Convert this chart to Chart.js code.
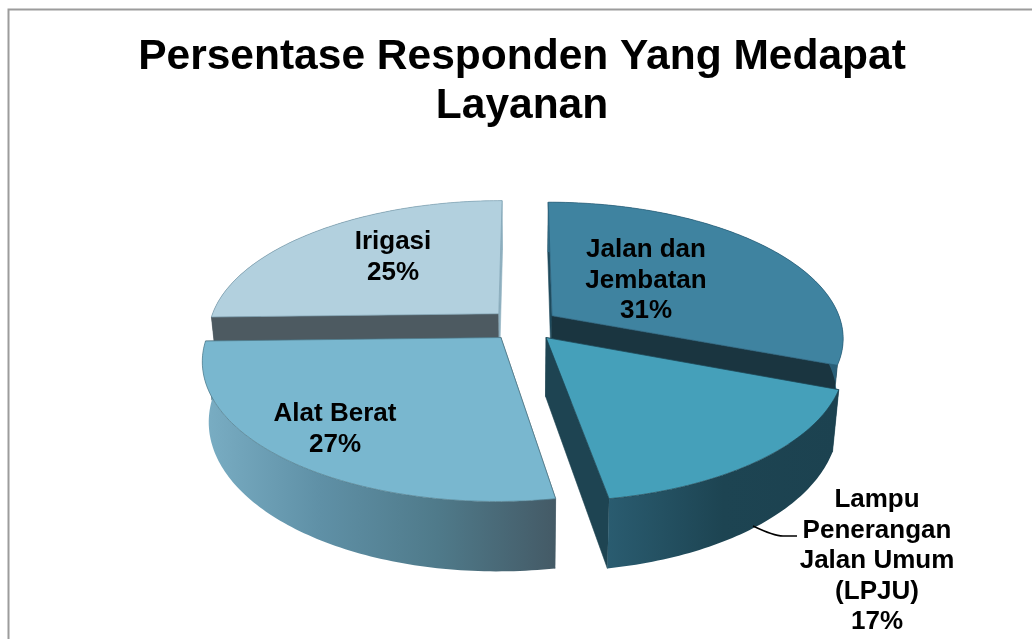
<!DOCTYPE html>
<html>
<head>
<meta charset="utf-8">
<style>html,body{margin:0;padding:0;background:#fff;overflow:hidden}canvas{display:block}</style>
<script src="https://cdn.jsdelivr.net/npm/chart.js@4"></script>
</head>
<body>
<div style="width:1032px;height:639px"><canvas id="c" width="1032" height="639"></canvas></div>
<script>
const titleLines = ['Persentase Responden Yang Medapat', 'Layanan'];
const categories = ['Jalan dan Jembatan', 'Lampu Penerangan Jalan Umum (LPJU)', 'Alat Berat', 'Irigasi'];
const values = [30.8, 16.5, 27.3, 25.4];
const labelLines = [['Jalan dan', 'Jembatan'], ['Lampu', 'Penerangan', 'Jalan Umum', '(LPJU)'], ['Alat Berat'], ['Irigasi']];
const topColors = ['#3f83a0', '#45a0ba', '#79b7cf', '#b2d0de'];
const startCutColors = ['#1e4a5c', '#1e4452', '#445a66', '#4d5a61'];
const endCutColors = ['#1a3540', '#1e4452', '#435c68', '#8fb0c0'];
const rimStops = [
  ['#2f6a84', '#2a5f78'],
  ['#2a5c70', '#1d4452', '#1c4250'],
  ['#7aaec4', '#5f90a6', '#4f7a8a', '#445a66'],
  ['#4d5a61', '#4d5a61', '#8fb0c0']
];

const view = {k: 0.462, p: 0.156, depth: 58, bottomScale: 0.98, shiftX: 1.5};
const labelPlaces = [[646, 250], [877, 500], [335, 414], [393, 242]];

const pie3d = {
  id: 'pie3d',
  beforeDraw(chart) {
    const c = chart.ctx;
    c.save();
    c.fillStyle = '#fff';
    c.fillRect(0, 0, chart.width, chart.height);
    c.strokeStyle = '#9c9c9c';
    c.lineWidth = 2;
    c.strokeRect(8.5, 9.5, chart.width + 20, chart.height + 20);
    c.restore();
  },
  beforeDatasetsDraw(chart) {
    const c = chart.ctx;
    const arcs = chart.getDatasetMeta(0).data;
    const order = arcs.map((a, i) => i).sort((i, j) => {
      const m = a => Math.sin((a.startAngle + a.endAngle) / 2);
      return m(arcs[i]) - m(arcs[j]);
    });
    order.forEach(i => {
      const el = arcs[i];
      const R = el.outerRadius;
      const mid = (el.startAngle + el.endAngle) / 2;
      const e = el.options.offset / R;
      const ou = Math.cos(mid) * e, ov = Math.sin(mid) * e;
      const proj = (r, ang, low) => {
        const u = ou + r * Math.cos(ang), v = ov + r * Math.sin(ang);
        const s = 1 / (1 - view.p * v);
        const sc = low ? view.bottomScale : 1;
        return [el.x + view.shiftX + R * u * s * sc, el.y + R * view.k * v * s + (low ? view.depth * s : 0)];
      };
      const samples = [];
      const n = Math.ceil((el.endAngle - el.startAngle) / (Math.PI / 180));
      for (let t = 0; t <= n; t++) samples.push(el.startAngle + (el.endAngle - el.startAngle) * t / n);
      const poly = pts => {
        c.beginPath();
        pts.forEach((p, idx) => idx ? c.lineTo(p[0], p[1]) : c.moveTo(p[0], p[1]));
        c.closePath();
      };
      c.lineJoin = 'round';
      // cut faces
      [[el.startAngle, startCutColors[i]], [el.endAngle, endCutColors[i]]].forEach(([a, col]) => {
        poly([proj(0, a, false), proj(1, a, false), proj(1, a, true), proj(0, a, true)]);
        c.fillStyle = col;
        c.fill();
        c.strokeStyle = col;
        c.lineWidth = 0.6;
        c.stroke();
      });
      // rim wall
      const topEdge = samples.map(a => proj(1, a, false));
      const lowEdge = samples.map(a => proj(1, a, true));
      const xs = topEdge.concat(lowEdge).map(p => p[0]);
      const g = c.createLinearGradient(Math.min(...xs), 0, Math.max(...xs), 0);
      const stops = rimStops[i];
      stops.forEach((col, k) => g.addColorStop(k / (stops.length - 1), col));
      poly(topEdge.concat(lowEdge.slice().reverse()));
      c.fillStyle = g;
      c.fill();
      // top face
      poly([proj(0, el.startAngle, false)].concat(topEdge));
      c.fillStyle = el.options.backgroundColor;
      c.fill();
      c.strokeStyle = i === 3 ? '#7fa3b4' : stops[Math.floor(stops.length / 2)];
      c.lineWidth = 0.7;
      c.stroke();
    });
    return false;
  },
  afterDraw(chart) {
    const c = chart.ctx;
    c.save();
    // leader line for the label outside the pie
    c.strokeStyle = '#000';
    c.lineWidth = 1.4;
    c.beginPath();
    c.moveTo(753, 526);
    c.quadraticCurveTo(774, 536, 783, 536);
    c.lineTo(797, 536);
    c.stroke();
    c.fillStyle = '#000';
    c.font = 'bold 26px "Liberation Sans", Arial, sans-serif';
    c.textAlign = 'center';
    c.textBaseline = 'middle';
    values.forEach((v, i) => {
      const lines = labelLines[i].concat(Math.round(v) + '%');
      lines.forEach((t, j) => c.fillText(t, labelPlaces[i][0], labelPlaces[i][1] + j * 30.5));
    });
    c.restore();
  }
};

new Chart(document.getElementById('c'), {
  type: 'pie',
  data: {
    labels: categories,
    datasets: [{data: values, backgroundColor: topColors, borderWidth: 0, offset: 35}]
  },
  options: {
    responsive: false,
    animation: false,
    radius: 290,
    layout: {padding: {left: 12, right: 0, top: 0, bottom: 128}},
    plugins: {
      legend: {display: false},
      tooltip: {enabled: false},
      title: {
        display: true,
        text: titleLines,
        color: '#000',
        font: {family: '"Liberation Sans", Arial, sans-serif', size: 42.5, weight: 'bold', lineHeight: 1.15},
        padding: {top: 33, bottom: 8}
      }
    }
  },
  plugins: [pie3d]
});
</script>
</body>
</html>
